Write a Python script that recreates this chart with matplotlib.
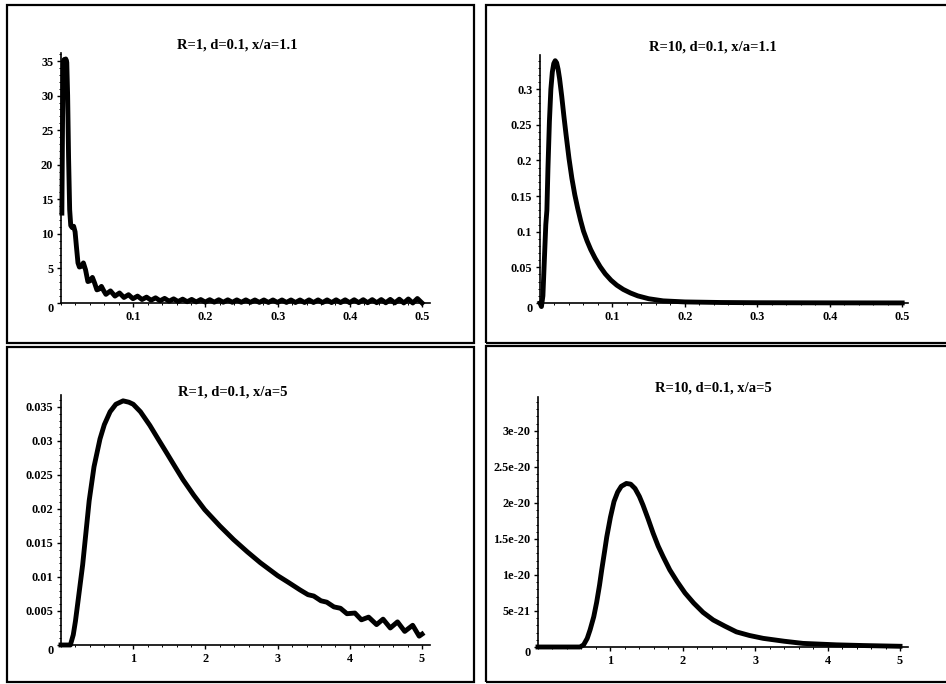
import numpy as np
import matplotlib
matplotlib.use('Agg')
import matplotlib.pyplot as plt
from matplotlib.patches import Rectangle
from matplotlib.ticker import AutoMinorLocator

plt.rcParams['font.family'] = ['Liberation Serif', 'DejaVu Serif']
plt.rcParams['font.weight'] = 'bold'

# 数据
titles = ['R=1, d=0.1, x/a=1.1', 'R=10, d=0.1, x/a=1.1',
          'R=1, d=0.1, x/a=5', 'R=10, d=0.1, x/a=5']

# R=1, x/a=1.1
p1_x = [0.0012, 0.0022, 0.0032, 0.0042, 0.0055, 0.0066, 0.0080, 0.0092, 0.0105, 0.0120,
        0.0135, 0.0155, 0.0175, 0.0195, 0.0215, 0.0235, 0.0255, 0.0280, 0.0310, 0.0340,
        0.0372, 0.0400, 0.0435, 0.0465, 0.0497, 0.0525, 0.0560, 0.0590, 0.0622,
        0.0685, 0.0747, 0.0810, 0.0872, 0.0935, 0.0997, 0.1060, 0.1122, 0.1185, 0.1247,
        0.1310, 0.1372, 0.1435, 0.1497, 0.1560, 0.1622, 0.1685, 0.1747, 0.1810, 0.1872,
        0.1935, 0.1997, 0.2060, 0.2122, 0.2185, 0.2247, 0.2310, 0.2372, 0.2435, 0.2497,
        0.2560, 0.2622, 0.2685, 0.2747, 0.2810, 0.2872, 0.2935, 0.2997, 0.3060, 0.3122,
        0.3185, 0.3247, 0.3310, 0.3372, 0.3435, 0.3497, 0.3560, 0.3622, 0.3685, 0.3747,
        0.3810, 0.3872, 0.3935, 0.3997, 0.4060, 0.4122, 0.4185, 0.4247, 0.4310, 0.4372,
        0.4435, 0.4497, 0.4560, 0.4622, 0.4685, 0.4747, 0.4810, 0.4872, 0.4935, 0.5000]
p1_y = [13.0, 27.0, 34.5, 35.2, 32.0, 35.3, 34.8, 30.0, 21.0, 13.5,
        11.2, 10.9, 11.1, 10.3, 8.0, 5.8, 5.2, 5.3, 5.8, 4.8,
        3.1, 3.2, 3.7, 2.9, 1.9, 2.0, 2.4, 1.8, 1.25,
        1.75, 1.0, 1.45, 0.8, 1.2, 0.62, 1.0, 0.5, 0.85, 0.4,
        0.75, 0.32, 0.67, 0.26, 0.6, 0.21, 0.56, 0.18, 0.52, 0.15,
        0.5, 0.13, 0.48, 0.12, 0.47, 0.11, 0.46, 0.10, 0.45, 0.10,
        0.45, 0.09, 0.44, 0.09, 0.44, 0.08, 0.44, 0.08, 0.44, 0.08,
        0.44, 0.07, 0.44, 0.07, 0.45, 0.07, 0.45, 0.06, 0.45, 0.06,
        0.46, 0.06, 0.46, 0.05, 0.47, 0.05, 0.48, 0.04, 0.49, 0.04,
        0.50, 0.03, 0.52, 0.02, 0.55, 0.01, 0.58, 0.0, 0.65, 0.0]

# R=10, x/a=1.1
p2_x = [0.0, 0.002, 0.004, 0.006, 0.008, 0.0095, 0.011, 0.013, 0.015, 0.017,
        0.019, 0.021, 0.023, 0.025, 0.027, 0.030, 0.033, 0.036, 0.040, 0.044,
        0.048, 0.052, 0.056, 0.060, 0.065, 0.070, 0.076, 0.083, 0.090, 0.098,
        0.106, 0.115, 0.125, 0.135, 0.150, 0.170, 0.200, 0.250, 0.300, 0.400,
        0.500]
p2_y = [0.0, -0.005, 0.01, 0.06, 0.11, 0.13, 0.19, 0.255, 0.300, 0.324,
        0.336, 0.340, 0.337, 0.328, 0.315, 0.290, 0.262, 0.236, 0.203, 0.175,
        0.152, 0.133, 0.116, 0.101, 0.087, 0.075, 0.063, 0.051, 0.041, 0.032,
        0.025, 0.019, 0.014, 0.010, 0.006, 0.003, 0.0015, 0.0007, 0.0004, 0.0002,
        0.0001]

# R=1, x/a=5
p3_x = [0.0, 0.13, 0.17, 0.20, 0.24, 0.30, 0.346, 0.39, 0.457, 0.54,
        0.60, 0.68, 0.76, 0.86, 0.94, 1.0, 1.1, 1.23, 1.35, 1.46,
        1.58, 1.69, 1.84, 1.99, 2.2, 2.39, 2.58, 2.76, 3.0, 3.15,
        3.31, 3.42, 3.50, 3.60, 3.68, 3.78, 3.87, 3.96, 4.07, 4.16,
        4.26, 4.37, 4.46, 4.56, 4.66, 4.76, 4.87, 4.96, 5.0]
p3_y = [0.0, 0.0, 0.0015, 0.0035, 0.0068, 0.0118, 0.0166, 0.0212, 0.0262, 0.0303,
        0.0324, 0.0343, 0.0354, 0.0359, 0.0357, 0.0354, 0.0343, 0.0323, 0.0302, 0.0283,
        0.0262, 0.0243, 0.0220, 0.0199, 0.0175, 0.0155, 0.0137, 0.0121, 0.0102, 0.0092,
        0.0081, 0.0074, 0.0072, 0.0065, 0.0063, 0.0056, 0.0054, 0.0046, 0.0047, 0.0037,
        0.0041, 0.0030, 0.0038, 0.0025, 0.0034, 0.0020, 0.0029, 0.0013, 0.0016]

# R=10, x/a=5  (单位 1e-20)
p4_x = [0.0, 0.58, 0.63, 0.68, 0.72, 0.77, 0.81, 0.85, 0.88, 0.92,
        0.95, 1.0, 1.05, 1.10, 1.15, 1.22, 1.28, 1.34, 1.40, 1.45,
        1.52, 1.59, 1.66, 1.73, 1.82, 1.92, 2.03, 2.15, 2.28, 2.42,
        2.58, 2.74, 2.92, 3.11, 3.4, 3.66, 4.12, 4.5, 5.0]
p4_y = [0.0, 0.0, 0.03, 0.12, 0.24, 0.42, 0.62, 0.86, 1.07, 1.33,
        1.53, 1.80, 2.02, 2.15, 2.23, 2.27, 2.26, 2.20, 2.09, 1.97,
        1.78, 1.58, 1.40, 1.25, 1.07, 0.91, 0.75, 0.61, 0.48, 0.375,
        0.29, 0.21, 0.16, 0.12, 0.08, 0.05, 0.03, 0.02, 0.01]

xt_small = [0.1, 0.2, 0.3, 0.4, 0.5]
xt_big = [1, 2, 3, 4, 5]
yt1 = [0, 5, 10, 15, 20, 25, 30, 35]
yt2 = [0, 0.05, 0.1, 0.15, 0.2, 0.25, 0.3]
yt3 = [0, 0.005, 0.01, 0.015, 0.02, 0.025, 0.03, 0.035]
yt4 = [0, 5e-21, 1e-20, 1.5e-20, 2e-20, 2.5e-20, 3e-20]
yt4_labels = ['0', '5e-21', '1e-20', '1.5e-20', '2e-20', '2.5e-20', '3e-20']

W, H = 946, 684
fig = plt.figure(figsize=(W / 100, H / 100), dpi=100)


def box(x0, y0, x1, y1):
    return [x0 / W, 1 - y1 / H, (x1 - x0) / W, (y1 - y0) / H]


# 外框
for (x0, y0, x1, y1) in [(7, 5, 474, 343), (486, 5, 960, 343),
                         (7, 347, 474, 682), (486, 346, 960, 682)]:
    b = box(x0, y0, x1, y1)
    fig.patches.append(Rectangle((b[0], b[1]), b[2], b[3], transform=fig.transFigure,
                                 fill=False, lw=1.6, ec='black'))


def style(ax, xlim, ylim, xticks, yticks, ylabels=None):
    ax.set_xlim(*xlim)
    ax.set_ylim(*ylim)
    ax.spines['top'].set_visible(False)
    ax.spines['right'].set_visible(False)
    ax.spines['left'].set_linewidth(1.2)
    ax.spines['bottom'].set_linewidth(1.2)
    ax.set_xticks(xticks, [str(t) for t in xticks])
    if ylabels is None:
        ylabels = ['0'] + [('%g' % t) for t in yticks[1:]]
    ax.set_yticks(yticks, ylabels)
    ax.xaxis.set_minor_locator(AutoMinorLocator(5))
    ax.yaxis.set_minor_locator(AutoMinorLocator(5))
    ax.tick_params(which='major', length=3, width=1, labelsize=8.8, pad=2.5)
    ax.tick_params(which='minor', length=1.5, width=0.7)
    ax.patch.set_alpha(0)
    # "0" 稍微低一点
    ax.get_yticklabels()[0].set_verticalalignment('top')


lw = 3.5

ax1 = fig.add_axes(box(61, 53, 430, 303))
ax1.plot(p1_x, p1_y, color='black', lw=lw, clip_on=False, solid_joinstyle='round')
style(ax1, (0, 0.511), (0, 36.16), xt_small, yt1)

ax2 = fig.add_axes(box(540, 55, 908, 303))
ax2.plot(p2_x, p2_y, color='black', lw=lw, clip_on=False, solid_joinstyle='round')
style(ax2, (0, 0.508), (0, 0.348), xt_small, yt2)

ax3 = fig.add_axes(box(61, 395, 430, 645))
ax3.plot(p3_x, p3_y, color='black', lw=lw, clip_on=False, solid_joinstyle='round')
style(ax3, (0, 5.11), (0, 0.03676), xt_big, yt3)

ax4 = fig.add_axes(box(538, 397, 908, 647))
ax4.plot(p4_x, np.array(p4_y) * 1e-20, color='black', lw=lw, clip_on=False,
         solid_joinstyle='round')
style(ax4, (0, 5.11), (0, 3.47e-20), xt_big, yt4, yt4_labels)
ax4.yaxis.get_offset_text().set_visible(False)

# 标题
for (cx, cy), t in zip([(237, 45), (713, 47), (233, 392), (713, 388)], titles):
    fig.text(cx / W, 1 - cy / H, t, ha='center', va='center', fontsize=10.5,
             fontweight='bold')

plt.savefig('out.png', dpi=100)
